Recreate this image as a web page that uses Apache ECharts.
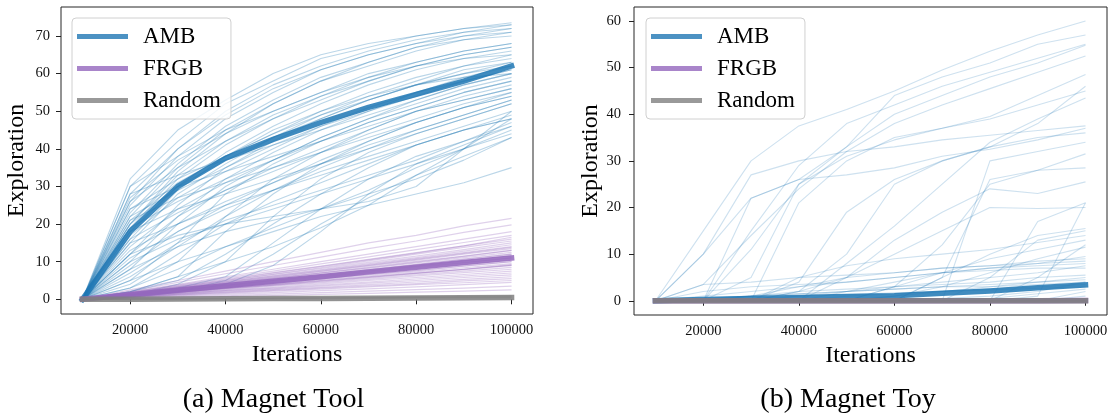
<!DOCTYPE html>
<html>
<head>
<meta charset="utf-8">
<script src="https://cdn.jsdelivr.net/npm/echarts@6/dist/echarts.min.js"></script>
<style>
html,body{margin:0;padding:0;background:#fff;}
#c{width:1112px;height:415px;}
</style>
</head>
<body>
<div id="c"></div>
<script>
// ---------------- data ----------------
const iterations = [10000,20000,30000,40000,50000,60000,70000,80000,90000,100000];
const xTickValues = [20000,40000,60000,80000,100000];
const yTicksTool = [0,10,20,30,40,50,60,70];
const yTicksToy = [0,10,20,30,40,50,60];
const legendNames = ['AMB','FRGB','Random'];
const captionTool = '(a) Magnet Tool';
const captionToy = '(b) Magnet Toy';

// (a) Magnet Tool - individual AMB runs
const toolAmbRuns = [
 [0,32,45,53,60,65,68,70,72,73.5],
 [0,30,42,52,58,64,67,70,72,73],
 [0,28,40,50,57,62,66,69,71,72],
 [0,25,38,48,55,61,65,68,70,71],
 [0,22,35,45,52,58,62,66,69,70],
 [0,30,38,45,50,55,60,63,66,68],
 [0,20,33,42,49,54,59,63,66,68],
 [0,26,35,42,48,53,58,62,65,67],
 [0,18,30,39,46,52,57,61,64,66],
 [0,24,32,38,44,50,55,59,62,65],
 [0,15,28,36,43,49,54,58,62,64],
 [0,20,30,37,43,48,53,57,61,63],
 [0,12,25,35,42,48,53,57,60,63],
 [0,22,29,35,41,46,51,55,59,62],
 [0,17,27,34,40,46,50,55,58,61],
 [0,10,22,32,39,45,50,54,58,61],
 [0,28,33,37,41,45,49,53,57,60],
 [0,14,24,31,37,43,48,53,57,60],
 [0,8,20,30,37,43,48,52,56,59],
 [0,19,26,32,37,42,47,51,55,58],
 [0,5,15,28,36,42,47,51,55,58],
 [0,12,22,29,35,40,45,50,54,57],
 [0,24,30,34,38,42,46,50,53,56],
 [0,3,10,22,32,39,45,50,53,56],
 [0,16,23,29,34,39,44,48,52,55],
 [0,9,18,25,31,37,42,47,51,55],
 [0,21,27,31,35,39,43,47,51,54],
 [0,2,6,18,28,36,42,47,51,54],
 [0,13,20,26,31,36,41,45,49,53],
 [0,6,14,22,29,35,40,45,49,53],
 [0,18,24,28,32,36,40,44,48,52],
 [0,1,4,10,22,32,39,44,48,52],
 [0,11,18,24,29,34,38,42,46,50],
 [0,4,12,20,26,31,36,41,45,49],
 [0,15,20,25,29,33,37,41,45,48],
 [0,2,5,12,20,28,35,41,45,48],
 [0,7,15,21,25,29,33,37,42,46],
 [0,10,16,20,24,28,32,36,40,45],
 [0,3,8,14,19,24,29,35,40,44],
 [0,1,3,6,15,24,32,38,42,47],
 [0,5,10,14,18,22,25,28,31,35],
 [0,12,17,20,22,24,26,30,40,50],
 [0,0.5,2,4,9,18,28,36,41,46],
 [0,2,6,10,14,19,25,33,40,48],
 [0,20,34,44,52,58,63,67,70,72],
 [0,26,40,49,56,61,65,68,71,73],
 [0,23,36,46,53,59,63,67,69,71],
 [0,19,32,41,48,54,58,62,65,67],
 [0,1,2,5,12,20,27,33,38,43],
 [0,8,14,18,21,24,28,32,37,43],
 [0,27,37,44,50,55,59,62,64,65],
 [0,21,31,38,44,49,53,57,60,62],
 [0,16,29,38,45,50,54,57,59,60]
];
// (a) Magnet Tool - individual FRGB runs
const toolFrgbRuns = [
 [0,2.5,5,7.5,10,12.5,15,17,19.5,21.5],
 [0,2.2,4.5,6.8,9,11.2,13.5,15.5,17.8,19.8],
 [0,2,4,6,8,10,12,14,16,18],
 [0,1.8,3.8,5.7,7.5,9.4,11.3,13.2,15.1,17],
 [0,1.9,3.7,5.4,7.1,8.8,10.6,12.4,14.2,16],
 [0,1.6,3.3,5,6.7,8.4,10.2,12,13.8,15.5],
 [0,1.7,3.4,5,6.6,8.2,9.8,11.5,13.2,15],
 [0,1.5,3.1,4.7,6.3,7.9,9.5,11.1,12.8,14.5],
 [0,1.6,3.2,4.7,6.2,7.7,9.2,10.8,12.4,14],
 [0,1.4,2.9,4.4,5.9,7.4,8.9,10.4,12,13.5],
 [0,1.5,2.9,4.3,5.7,7.1,8.6,10.1,11.5,13],
 [0,1.3,2.7,4.1,5.5,6.9,8.3,9.7,11.1,12.5],
 [0,1.4,2.7,4,5.3,6.6,8,9.3,10.7,12],
 [0,1.2,2.5,3.8,5.1,6.4,7.8,9.2,10.6,12],
 [0,1.3,2.6,3.8,5,6.3,7.6,8.9,10.2,11.5],
 [0,1.2,2.4,3.6,4.8,6,7.3,8.6,9.8,11],
 [0,1.1,2.3,3.5,4.7,5.9,7.1,8.4,9.7,11],
 [0,1.2,2.3,3.4,4.5,5.7,6.9,8.1,9.3,10.5],
 [0,1.1,2.2,3.3,4.4,5.5,6.6,7.7,8.9,10],
 [0,1,2.1,3.2,4.3,5.4,6.5,7.6,8.8,10],
 [0,1.1,2.1,3.1,4.1,5.2,6.2,7.3,8.4,9.5],
 [0,1,2,3,4,5,6,7,8,9],
 [0,0.9,1.9,2.9,3.9,4.9,5.9,6.9,7.9,9],
 [0,0.9,1.8,2.8,3.7,4.6,5.6,6.5,7.5,8.5],
 [0,0.8,1.7,2.6,3.5,4.4,5.3,6.2,7.1,8],
 [0,0.8,1.6,2.4,3.2,4.1,5,5.8,6.6,7.5],
 [0,0.7,1.5,2.3,3,3.8,4.6,5.4,6.2,7],
 [0,0.7,1.4,2.1,2.8,3.5,4.3,5,5.8,6.5],
 [0,0.6,1.3,1.9,2.6,3.2,3.9,4.6,5.3,6],
 [0,0.6,1.2,1.8,2.4,3,3.6,4.2,4.9,5.5],
 [0,0.5,1.1,1.6,2.2,2.7,3.3,3.9,4.4,5],
 [0,0.4,0.9,1.3,1.8,2.3,2.8,3.3,3.9,4.5],
 [0,0.3,0.7,1,1.4,1.8,2.2,2.6,3,3.5],
 [0,0.2,0.5,0.7,1,1.3,1.6,1.9,2.2,2.5],
 [0,1.7,3.5,5.2,7,8.7,10.5,12.3,14.2,16.5],
 [0,1.3,2.8,4.2,5.6,7,8.4,9.9,11.4,13],
 [0,1.5,3,4.5,6,7.5,9,10.6,12.2,13.8],
 [0,1.2,2.5,3.7,5,6.2,7.5,8.8,10.2,11.7],
 [0,1,1.9,2.9,3.8,4.8,5.8,6.9,8,9.2]
];
// (a) Magnet Tool - individual Random runs
const toolRandomRuns = [
 [0,0.05,0.1,0.15,0.2,0.3,0.4,0.5,0.6,0.7],
 [0,0.1,0.2,0.3,0.4,0.5,0.6,0.7,0.8,1.0],
 [0,0,0.05,0.1,0.15,0.2,0.25,0.3,0.35,0.4],
 [0,0.05,0.1,0.2,0.3,0.35,0.45,0.5,0.55,0.6]
];
const toolAmbMean = [0,18,30,37.5,42.5,47,51,54.5,58,62];
const toolFrgbMean = [0,1.2,2.4,3.6,4.8,6,7.3,8.5,9.8,11];
const toolRandomMean = [0,0.05,0.1,0.15,0.2,0.25,0.3,0.35,0.4,0.5];

// (b) Magnet Toy - individual AMB runs
const toyAmbRuns = [
 [0,15,30,37.5,41,45,49.5,53.5,57,60],
 [0,10,22,26,33,44,48,51,55,57],
 [0,0,15,29,38,42,46,49,52,55],
 [0,0,5,25,33,40,44,48,51,54.8],
 [0,3.5,14,24,32,38,42,45.5,49,52.5],
 [0,0,0,21,30,35,37,39.5,44,48.5],
 [0,0,0,4,19,26,30,33,38,46],
 [0,0,11,25,31,34.5,37,39,42,45],
 [0,0,0,0,8,16,25,34,39,43.5],
 [0,10,27,30,32,33,34.5,35.5,36.5,37.5],
 [0,0,22,26,27,28.5,31,32.5,34.5,37],
 [0,0,0,2,10,25,30,33,35,36],
 [0,0,0,0,0,0,0,30,32,34],
 [0,0,0,0,0,3,12,25,28,31.5],
 [0,0,0,0,0,0,5,26,28,28.5],
 [0,0,0,0,5,13,19,24,23,25.5],
 [0,0,0,0,0,0,0,0,17,21],
 [0,0,0,2,5,10,15,20,19.8,20],
 [0,0,0,0,0,0,5,10,14,15.5],
 [0,0,0,5,7.5,9,10,11,12.5,14],
 [0,0,0,0,0,0,0,0,5,12],
 [0,0,0,0,0,3,6,9,11,13],
 [0,3.5,4,5,5.5,6,7,7.5,8.5,9],
 [0,0,0,0,2,4,6,7,8,8.5],
 [0,2,3,3.5,4,5,6,7,7.5,8],
 [0,0,0,1,2,3,4,5,6,7.5],
 [0,0,1,2,2.5,3,3.5,4,5,5.5],
 [0,0,0,0,0,1,2,3,4,5],
 [0,0.5,1,1.5,2,2.5,3,3.5,4,4.5],
 [0,0,0,0,0,0,0.5,1,2,4],
 [0,0,0.5,1,1.3,1.7,2,2.3,2.7,3],
 [0,0,0,0,0,0,0,0,1,21],
 [0,0,0,0,0,0,0,0,0,1],
 [0,0,0,0,0,0,0,0,0.2,0.5],
 [0,0,0,0,1,1.5,2,2.5,3,3.5],
 [0,0,0,0,0,0,0,0.5,1.5,2.5],
 [0,0.5,1,1.5,2,2.5,3,3,3.5,4],
 [0,0,0,0,0,0,0,5,13,15],
 [0,0,1,3,5,6,7,7.5,8,9.5],
 [0,0,0,0,0,0,0,0,0,0],
 [0,0,0,0,0,0,0,0,0,0],
 [0,1,2,3,4,5,6,6.5,7,7],
 [0,0,0,0,0,1,3,6,9,11.5],
 [0,0,0,0,0,0,0,0,0,2]
];
const toyFrgbRuns = [
 [0,0,0,0,0,0,0,0,0,0.1],
 [0,0,0,0,0,0,0,0,0,0],
 [0,0,0,0,0,0,0,0,0.05,0.1]
];
const toyRandomRuns = [
 [0,0,0,0,0,0,0,0,0,0],
 [0,0,0,0,0,0,0,0,0,0]
];
const toyAmbMean = [0,0.3,0.5,0.7,0.9,1.1,1.6,2.1,2.8,3.4];
const toyFrgbMean = [0,0,0,0,0,0,0,0,0,0.05];
const toyRandomMean = [0,0,0,0,0,0,0,0,0,0];

// ---------------- style ----------------
const FONT = "'Liberation Serif','DejaVu Serif',serif";
const BLUE = '#1f77b4', PURPLE = '#9467bd', GRAY = '#7f7f7f';

function pts(vals){ return iterations.map((x,i)=>[x, vals[i]]); }
function line(name, vals, g, color, width, opacity, z){
  return {
    type:'line', name:name, xAxisIndex:g, yAxisIndex:g, data:pts(vals),
    symbol:'none', showSymbol:false, silent:true, animation:false,
    lineStyle:{color:color, width:width, opacity:opacity, cap: width>2?'square':'butt', join:'round'},
    itemStyle:{color:color},
    emphasis:{disabled:true}, z:z
  };
}

const series = [];
function addPanel(g, ambRuns, ambMean, frgbRuns, frgbMean, rndRuns, rndMean, runAlpha){
  ambRuns.forEach((r,i)=>series.push(line('AMB run '+(i+1)+(g?' (b)':' (a)'), r, g, BLUE, 1.1, runAlpha, 2)));
  series.push(line('AMB', ambMean, g, BLUE, 5.5, 0.85, 3));
  frgbRuns.forEach((r,i)=>series.push(line('FRGB run '+(i+1)+(g?' (b)':' (a)'), r, g, PURPLE, 1.2, 0.3, 4)));
  series.push(line('FRGB', frgbMean, g, PURPLE, 5.5, 0.85, 5));
  rndRuns.forEach((r,i)=>series.push(line('Random run '+(i+1)+(g?' (b)':' (a)'), r, g, GRAY, 1.2, 0.3, 6)));
  series.push(line('Random', rndMean, g, GRAY, 5.5, 0.85, 7));
}
addPanel(0, toolAmbRuns, toolAmbMean, toolFrgbRuns, toolFrgbMean, toolRandomRuns, toolRandomMean, 0.3);
addPanel(1, toyAmbRuns, toyAmbMean, toyFrgbRuns, toyFrgbMean, toyRandomRuns, toyRandomMean, 0.22);

const legendColors = {AMB:'rgba(31,119,180,0.8)', FRGB:'rgba(148,103,189,0.8)', Random:'rgba(127,127,127,0.8)'};
function legend(left){
  return {
    show:true, orient:'vertical', left:left, top:18,
    selectedMode:false, icon:'rect', itemWidth:51, itemHeight:5, itemGap:9,
    padding:[7,10,7,5],
    backgroundColor:'rgba(255,255,255,0.8)', borderColor:'#d0d0d0', borderWidth:1, borderRadius:4,
    textStyle:{fontFamily:FONT, fontSize:23, color:'#000', padding:[0,0,0,10]},
    data: legendNames.map(n=>({name:n, icon:'rect', itemStyle:{color:legendColors[n], borderWidth:0}}))
  };
}

function plain(v){ return String(v); }
function xAxis(g){
  return {
    type:'value', gridIndex:g, min:5500, max:104500,
    name:'Iterations', nameLocation:'middle', nameGap:25,
    nameTextStyle:{fontFamily:FONT, fontSize:24, color:'#000'},
    axisLine:{show:false},
    axisTick:{show:true, length:5, lineStyle:{color:'#222', width:1}, customValues:xTickValues},
    axisLabel:{show:true, fontFamily:FONT, fontSize:14.5, color:'#111', margin:9, customValues:xTickValues, formatter:plain},
    splitLine:{show:false}
  };
}
function yAxis(g, min, max, ticks, gap, margin){
  return {
    type:'value', gridIndex:g, min:min, max:max,
    name:'Exploration', nameLocation:'middle', nameGap:gap, nameRotate:90,
    nameTextStyle:{fontFamily:FONT, fontSize:24, color:'#000'},
    axisLine:{show:false},
    axisTick:{show:true, length:5, lineStyle:{color:'#222', width:1}, customValues:ticks},
    axisLabel:{show:true, fontFamily:FONT, fontSize:14.5, color:'#111', margin:margin, customValues:ticks, formatter:plain},
    splitLine:{show:false}
  };
}

const option = {
  backgroundColor:'#fff',
  animation:false,
  grid:[
    {left:61, top:7, width:472, height:307, show:true, borderColor:'#262626', borderWidth:1, backgroundColor:'transparent'},
    {left:634, top:7, width:473, height:308, show:true, borderColor:'#262626', borderWidth:1, backgroundColor:'transparent'}
  ],
  xAxis:[xAxis(0), xAxis(1)],
  yAxis:[yAxis(0,-3.9,77.7,yTicksTool,32,11), yAxis(1,-3.05,63,yTicksToy,31,13)],
  legend:[legend(72), legend(646)],
  series:series,
  graphic:[
    {type:'text', x:273.5, y:400, style:{text:captionTool, fontFamily:FONT, fontSize:28, fill:'#000', align:'center', verticalAlign:'middle'}},
    {type:'text', x:848, y:400, style:{text:captionToy, fontFamily:FONT, fontSize:28, fill:'#000', align:'center', verticalAlign:'middle'}}
  ]
};

const chart = echarts.init(document.getElementById('c'), null, {renderer:'canvas', width:1112, height:415});
chart.setOption(option);
</script>
</body>
</html>
